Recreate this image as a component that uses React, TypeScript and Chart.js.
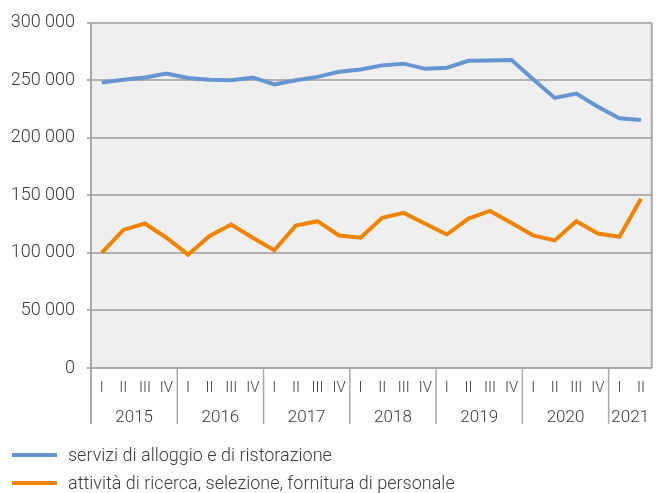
import React, { useEffect, useRef } from 'react';
import { Chart, registerables } from 'chart.js';

Chart.register(...registerables);

const years = ['2015', '2016', '2017', '2018', '2019', '2020', '2021'];
const quartersPerYear = [4, 4, 4, 4, 4, 4, 2];
const quarterNames = ['I', 'II', 'III', 'IV'];
const quarterLabels = quartersPerYear.flatMap((n) => quarterNames.slice(0, n));

const seriesNames = [
  'servizi di alloggio e di ristorazione',
  'attività di ricerca, selezione, fornitura di personale',
];
const seriesColors = ['#6795d1', '#f08300'];

const alloggio = [
  248000, 250500, 252500, 256000,
  252000, 250500, 250000, 252500,
  246500, 250000, 253000, 257500,
  259500, 263000, 264500, 260000,
  261000, 267000, 267200, 267700,
  251000, 234700, 238500, 227000,
  217000, 215500,
];
const ricerca = [
  100000, 120000, 125600, 113200,
  98500, 114700, 124700, 113200,
  102300, 123800, 127600, 115200,
  113200, 130500, 134800, 125300,
  116000, 129900, 136500, 126100,
  115200, 110900, 127600, 116900,
  114000, 147000,
];

const yMin = 0;
const yMax = 300000;
const yStep = 50000;

const FONT = 'Roboto';
const TEXT = '#3a3a3a';

function fmt(v: number): string {
  return String(v).replace(/\B(?=(\d{3})+(?!\d))/g, ' ');
}

export default function App() {
  const ref = useRef<HTMLCanvasElement | null>(null);

  useEffect(() => {
    const canvas = ref.current;
    if (!canvas) return;

    const decor = {
      id: 'decor',
      beforeDraw(chart: any) {
        const { ctx, chartArea } = chart;
        ctx.save();
        ctx.fillStyle = '#efefef';
        ctx.fillRect(chartArea.left, chartArea.top, chartArea.right - chartArea.left, chartArea.bottom - chartArea.top);
        ctx.restore();
      },
      afterDraw(chart: any) {
        const { ctx, chartArea } = chart;
        const xs = chart.scales.x;
        const bottomLine = 424;
        ctx.save();
        ctx.strokeStyle = '#a8a8a8';
        ctx.lineWidth = 2;
        // right frame
        ctx.beginPath();
        ctx.moveTo(chartArea.right, chartArea.top);
        ctx.lineTo(chartArea.right, chartArea.bottom);
        ctx.stroke();
        // left axis extension
        ctx.beginPath();
        ctx.moveTo(chartArea.left, chartArea.bottom);
        ctx.lineTo(chartArea.left, bottomLine);
        ctx.stroke();
        // separators + year labels
        ctx.fillStyle = TEXT;
        ctx.font = `300 17px ${FONT}`;
        ctx.textAlign = 'center';
        ctx.textBaseline = 'middle';
        let start = 0;
        quartersPerYear.forEach((n, gi) => {
          const end = start + n - 1;
          const cx = (xs.getPixelForValue(start) + xs.getPixelForValue(end)) / 2;
          ctx.fillText(years[gi], cx, 418);
          if (gi < quartersPerYear.length - 1) {
            const sx = (xs.getPixelForValue(end) + xs.getPixelForValue(end + 1)) / 2;
            ctx.lineWidth = 1.5;
            ctx.beginPath();
            ctx.moveTo(sx, chartArea.bottom);
            ctx.lineTo(sx, bottomLine);
            ctx.stroke();
          }
          start += n;
        });
        // legend
        ctx.textAlign = 'left';
        ctx.font = `300 18px ${FONT}`;
        seriesNames.forEach((name, i) => {
          const y = 455 + i * 28;
          ctx.strokeStyle = seriesColors[i];
          ctx.lineWidth = 4;
          ctx.beginPath();
          ctx.moveTo(12, y);
          ctx.lineTo(57, y);
          ctx.stroke();
          ctx.fillStyle = TEXT;
          ctx.fillText(name, 68, y + 1);
        });
        ctx.restore();
      },
    };

    const chart = new Chart(canvas, {
      type: 'line',
      data: {
        labels: quarterLabels,
        datasets: [
          {
            label: seriesNames[0],
            data: alloggio,
            borderColor: seriesColors[0],
            backgroundColor: seriesColors[0],
            borderWidth: 4,
            pointRadius: 0,
            tension: 0,
          },
          {
            label: seriesNames[1],
            data: ricerca,
            borderColor: seriesColors[1],
            backgroundColor: seriesColors[1],
            borderWidth: 4,
            pointRadius: 0,
            tension: 0,
          },
        ],
      },
      options: {
        responsive: false,
        animation: false,
        layout: { padding: { top: 20, right: 1, left: 0, bottom: 0 } },
        plugins: {
          legend: { display: false },
          tooltip: { enabled: false },
        },
        scales: {
          x: {
            offset: true,
            grid: { display: false, drawTicks: false },
            border: { display: true, color: '#a8a8a8', width: 2 },
            ticks: {
              color: TEXT,
              font: { family: FONT, size: 15, weight: '300' },
              padding: 11,
              maxRotation: 0,
              autoSkip: false,
            },
            afterFit(scale: any) {
              scale.height = 125;
            },
          },
          y: {
            min: yMin,
            max: yMax,
            grid: { color: '#b0b0b0', lineWidth: 2, tickLength: 4 },
            border: { display: true, color: '#a8a8a8', width: 2 },
            ticks: {
              stepSize: yStep,
              color: TEXT,
              font: { family: FONT, size: 18, weight: '300' },
              padding: 12,
              callback: (v: any) => fmt(Number(v)),
            },
            afterFit(scale: any) {
              scale.width = 91;
            },
          },
        },
      },
      plugins: [decor],
    });

    return () => chart.destroy();
  }, []);

  return (
    <div style={{ position: 'absolute', left: 0, top: 0, width: 656, height: 493, background: '#fff' }}>
      <canvas ref={ref} width={656} height={493} style={{ display: 'block', width: 656, height: 493 }} />
    </div>
  );
}
